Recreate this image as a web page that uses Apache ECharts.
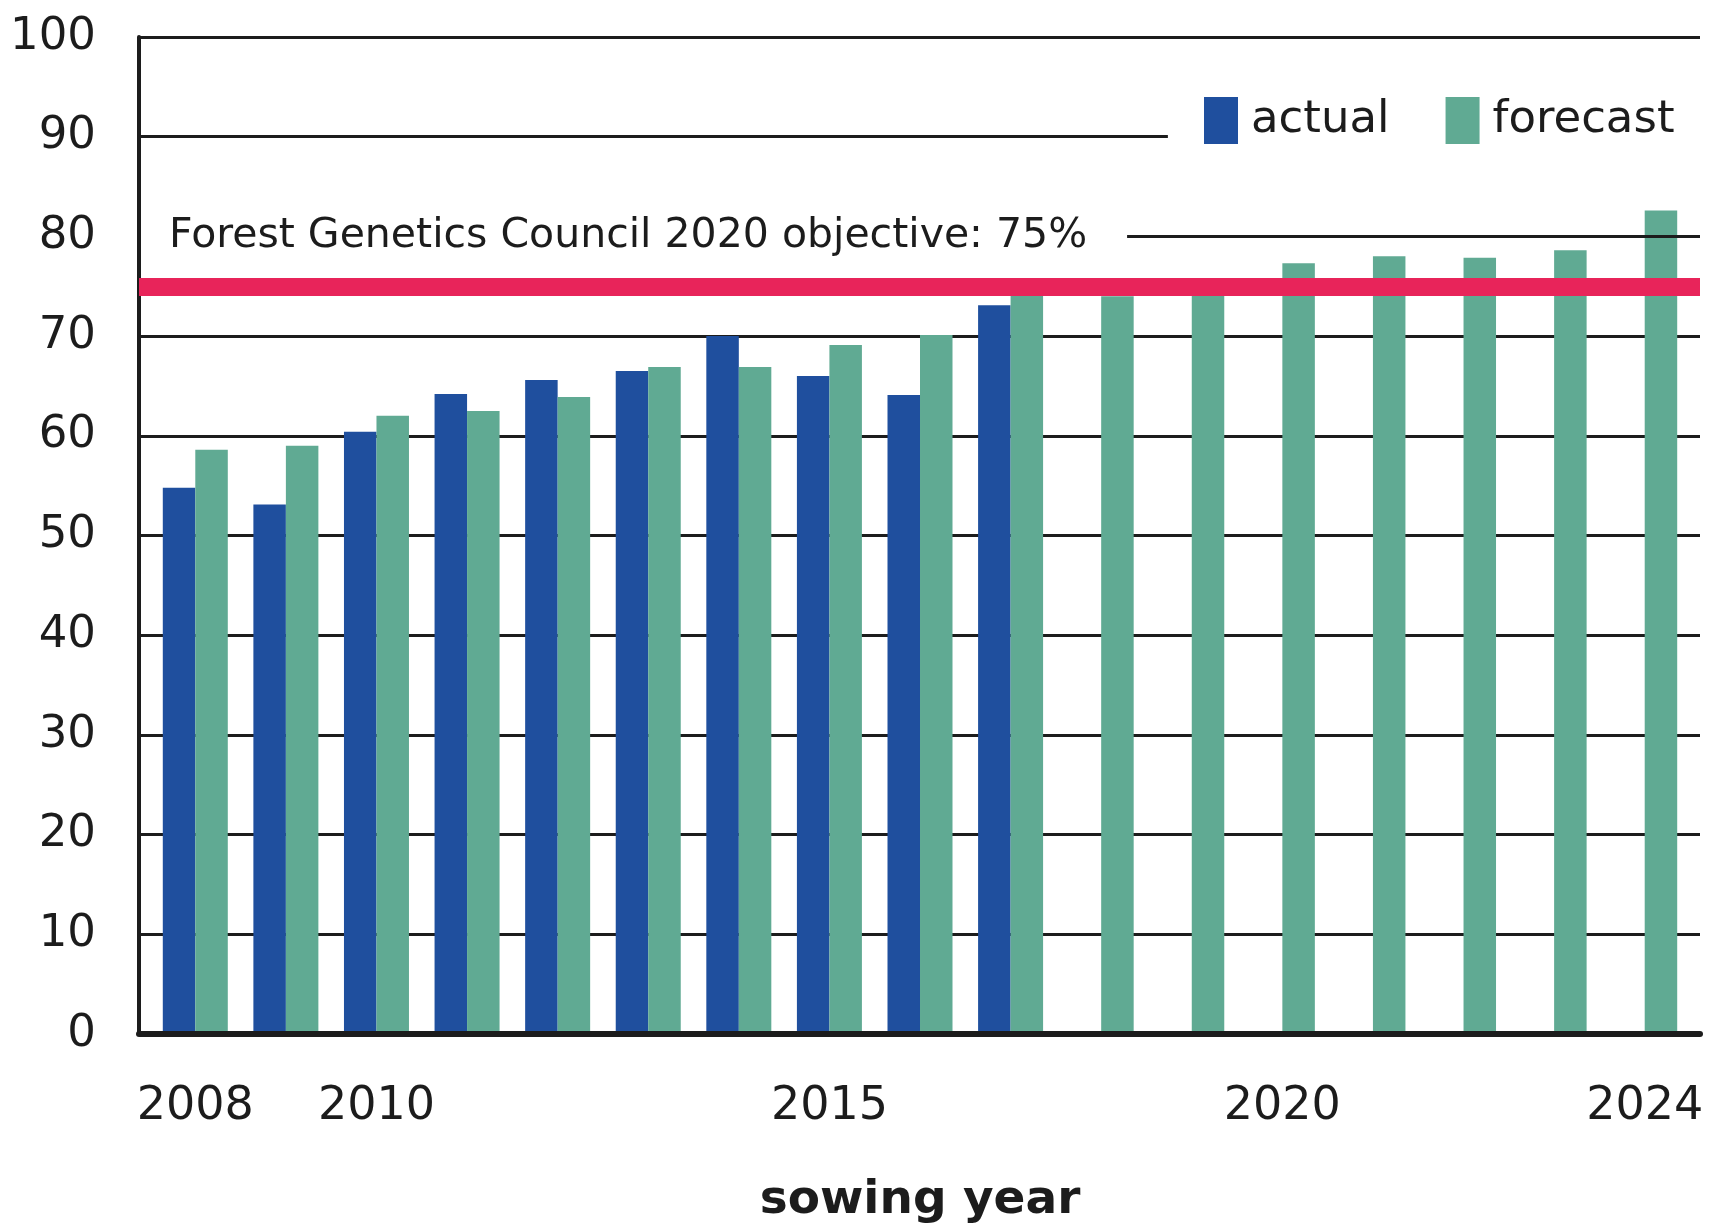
<!DOCTYPE html>
<html>
<head>
<meta charset="utf-8">
<script src="https://cdn.jsdelivr.net/npm/echarts@6/dist/echarts.min.js"></script>
<style>
html,body{margin:0;padding:0;background:#fff;}
#chart{width:1709px;height:1232px;}
</style>
</head>
<body>
<div id="chart"></div>
<script>
const years = ['2008','2009','2010','2011','2012','2013','2014','2015','2016','2017','2018','2019','2020','2021','2022','2023','2024'];
const actual = [54.8, 53.1, 60.4, 64.2, 65.6, 66.5, 70.0, 66.0, 64.1, 73.1, null, null, null, null, null, null, null];
const forecast = [58.6, 59.0, 62.0, 62.5, 63.9, 66.9, 66.9, 69.1, 70.1, 74.4, 74.0, 75.1, 77.3, 78.0, 77.85, 78.6, 82.6];
const labeledYears = ['2008','2010','2015','2020','2024'];
const yMin = 0, yMax = 100, yStep = 10;
const objective = 75;
const objectiveLabel = 'Forest Genetics Council 2020 objective: 75%';
const seriesNames = ['actual', 'forecast'];
const xAxisName = 'sowing year';

const FONT = '"DejaVu Sans", Verdana, sans-serif';
const DARK = '#1c1c1c';
// frame x-range expressed in year units (frame extends a little beyond the bar bands)
const frameXMin = 2007.39, frameXMax = 2024.61;
const gap90End = 2018.74, gap80Start = 2018.29;

// split line colours: hide 80 and 90 (drawn partially below)
const splitColors = [];
for (let v = yMin; v <= yMax; v += yStep) splitColors.push((v === 80 || v === 90) ? 'rgba(0,0,0,0)' : DARK);

const chart = echarts.init(document.getElementById('chart'), null, {renderer: 'canvas'});
chart.setOption({
  animation: false,
  backgroundColor: '#fff',
  textStyle: {fontFamily: FONT},
  grid: [
    {left: 139, right: 9, top: 37, bottom: 198, outerBoundsMode: 'none', containLabel: false},
    {left: 150, right: 19, top: 37, bottom: 198, outerBoundsMode: 'none', containLabel: false}
  ],
  legend: {
    data: seriesNames,
    left: 1204, top: 97, padding: 0,
    icon: 'rect', itemWidth: 34, itemHeight: 47, itemGap: 56,
    textStyle: {fontSize: 45, color: DARK, fontFamily: FONT, padding: [0, 0, 0, 8]},
    selectedMode: false
  },
  xAxis: [
    {gridIndex: 0, type: 'value', min: frameXMin, max: frameXMax, z: 5,
     axisLine: {show: true, onZero: false, lineStyle: {color: DARK, width: 6}},
     axisTick: {show: false}, axisLabel: {show: false}, splitLine: {show: false}},
    {gridIndex: 1, type: 'category', data: years, boundaryGap: true,
     axisLine: {show: false}, axisTick: {show: false}, splitLine: {show: false},
     axisLabel: {fontSize: 46, color: DARK, fontFamily: FONT, margin: 50,
       interval: (i, v) => labeledYears.includes(v)},
     name: xAxisName, nameLocation: 'middle', nameGap: 143,
     nameTextStyle: {fontSize: 47, fontWeight: 'bold', color: DARK, fontFamily: FONT}}
  ],
  yAxis: [
    {gridIndex: 0, type: 'value', min: yMin, max: yMax, interval: yStep,
     axisLine: {show: true, lineStyle: {color: DARK, width: 4}},
     axisTick: {show: false},
     axisLabel: {fontSize: 45, color: DARK, fontFamily: FONT, margin: 43},
     splitLine: {show: true, lineStyle: {color: splitColors, width: 3}}},
    {gridIndex: 1, type: 'value', min: yMin, max: yMax, interval: yStep, show: false,
     splitLine: {show: false}}
  ],
  series: [
    {type: 'line', xAxisIndex: 0, yAxisIndex: 0, data: [], z: 1, silent: true,
     markLine: {
       silent: true, symbol: ['none', 'none'], animation: false,
       data: [
         [{coord: [frameXMin, objective], lineStyle: {color: '#e8245a', width: 18, type: 'solid'}, label: {show: false}},
          {coord: [frameXMax, objective]}],
         [{coord: [frameXMin, 90], lineStyle: {color: DARK, width: 3, type: 'solid'}, label: {show: false}},
          {coord: [gap90End, 90]}],
         [{coord: [gap80Start, 80], lineStyle: {color: DARK, width: 3, type: 'solid'},
           label: {show: true, position: 'start', distance: 40, formatter: objectiveLabel,
             fontSize: 41, color: DARK, fontFamily: FONT}},
          {coord: [frameXMax, 80]}]
       ]
     }},
    {name: seriesNames[0], type: 'bar', xAxisIndex: 1, yAxisIndex: 1, data: actual,
     barWidth: 32.5, barGap: '0%', z: 2, itemStyle: {color: '#1f4f9e'}},
    {name: seriesNames[1], type: 'bar', xAxisIndex: 1, yAxisIndex: 1, data: forecast,
     barWidth: 32.5, barGap: '0%', z: 2, itemStyle: {color: '#60aa93'}}
  ]
});
</script>
</body>
</html>
